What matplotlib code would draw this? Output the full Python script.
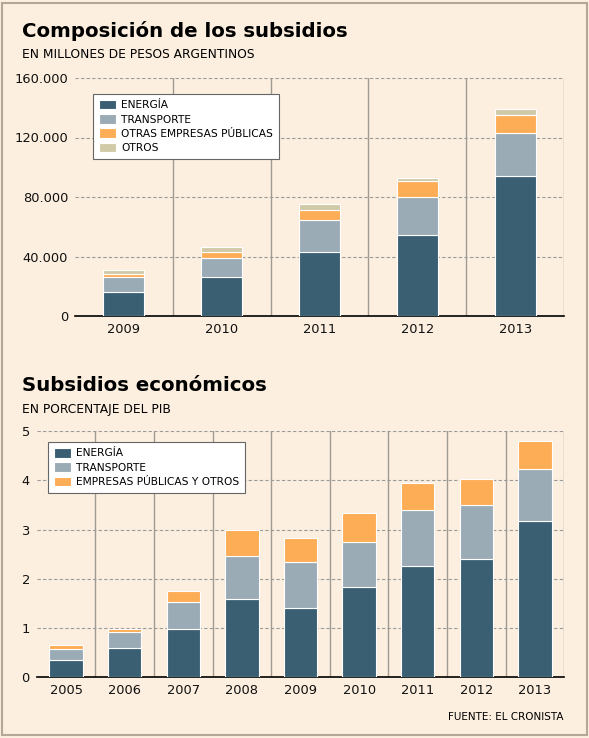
import numpy as np
import matplotlib.pyplot as plt
from matplotlib.patches import Rectangle
from matplotlib.ticker import FuncFormatter

## data: composicion (millones de pesos)
years_top = ["2009", "2010", "2011", "2012", "2013"]
energia_top = [15900, 26000, 43300, 54500, 93800]
transporte_top = [10100, 12800, 21300, 25800, 29200]
otras_emp_top = [2100, 4500, 6800, 10600, 12300]
otros_top = [2600, 3400, 3600, 1800, 4100]

## data: subsidios economicos (% PIB)
years_bot = ["2005", "2006", "2007", "2008", "2009", "2010", "2011", "2012", "2013"]
energia_bot = [0.35, 0.59, 0.99, 1.58, 1.40, 1.83, 2.26, 2.40, 3.18]
transporte_bot = [0.22, 0.32, 0.53, 0.88, 0.95, 0.91, 1.13, 1.09, 1.04]
otros_bot = [0.09, 0.08, 0.24, 0.53, 0.48, 0.60, 0.56, 0.54, 0.58]

bg = "#fcefdf"
c_en, c_tr, c_emp, c_ot = "#3a5f72", "#9babb5", "#fdad55", "#d1caa9"
grid_c = "#9a9a9a"

plt.rcParams['font.family'] = ['DejaVu Sans']

fig = plt.figure(figsize=(5.89, 7.38), dpi=100, facecolor=bg)
fig.patches.append(Rectangle((0.004, 0.004), 0.992, 0.992, transform=fig.transFigure,
                             fill=False, edgecolor="#b5a697", linewidth=1.5))


def style_axes(ax, n, ymax):
    ax.set_facecolor(bg)
    ax.set_xlim(-0.5, n - 0.5)
    ax.set_ylim(0, ymax)
    for s in ["left", "right", "top"]:
        ax.spines[s].set_visible(False)
    ax.spines["bottom"].set_color("black")
    ax.spines["bottom"].set_linewidth(1.2)
    ax.yaxis.grid(True, linestyle=(0, (3, 2)), color=grid_c, linewidth=0.8)
    ax.set_axisbelow(True)
    for i in range(n):
        ax.axvline(i + 0.5, color="#a09a92", linewidth=1.0, zorder=0.5)
    ax.tick_params(length=0, labelsize=9.4, colors="#111111", pad=5)


def make_legend(ax, x, y):
    leg = ax.legend(loc="upper left", bbox_to_anchor=(x, y), borderaxespad=0, fontsize=7.7,
                    frameon=True, fancybox=False, edgecolor="#666666", framealpha=1,
                    borderpad=0.55, handlelength=1.6, handleheight=1.0, labelspacing=0.36,
                    handletextpad=0.5)
    leg.get_frame().set_linewidth(0.8)
    return leg


## chart 1
ax1 = fig.add_axes([75 / 589, 1 - 316 / 738, 489 / 589, 238 / 738])
x1 = np.arange(len(years_top))
b = np.zeros(len(x1))
w1 = 0.42
for vals, col, lab in [(energia_top, c_en, "ENERGÍA"), (transporte_top, c_tr, "TRANSPORTE"),
                       (otras_emp_top, c_emp, "OTRAS EMPRESAS PÚBLICAS"), (otros_top, c_ot, "OTROS")]:
    ax1.bar(x1, vals, w1, bottom=b, color=col, edgecolor="white", linewidth=0.8, label=lab, zorder=3)
    b += np.array(vals)
style_axes(ax1, len(x1), 160000)
ax1.set_yticks([0, 40000, 80000, 120000, 160000])
ax1.yaxis.set_major_formatter(FuncFormatter(lambda v, p: f"{int(v):,}".replace(",", ".")))
ax1.set_xticks(x1)
ax1.set_xticklabels(years_top)
make_legend(ax1, 0.037, 0.933)

fig.text(22 / 589, 1 - 31 / 738, "Composición de los subsidios", fontsize=14.2, fontweight="bold",
         va="center", ha="left")
fig.text(22 / 589, 1 - 55 / 738, "EN MILLONES DE PESOS ARGENTINOS", fontsize=8.8, va="center", ha="left")

## chart 2
ax2 = fig.add_axes([36.7 / 589, 1 - 677.3 / 738, 527.6 / 589, 246.3 / 738])
x2 = np.arange(len(years_bot))
b = np.zeros(len(x2))
w2 = 0.57
for vals, col, lab in [(energia_bot, c_en, "ENERGÍA"), (transporte_bot, c_tr, "TRANSPORTE"),
                       (otros_bot, c_emp, "EMPRESAS PÚBLICAS Y OTROS")]:
    ax2.bar(x2, vals, w2, bottom=b, color=col, edgecolor="white", linewidth=0.8, label=lab, zorder=3)
    b += np.array(vals)
style_axes(ax2, len(x2), 5)
ax2.set_yticks([0, 1, 2, 3, 4, 5])
ax2.set_xticks(x2)
ax2.set_xticklabels(years_bot)
make_legend(ax2, 0.0214, 0.955)

fig.text(22 / 589, 1 - 386 / 738, "Subsidios económicos", fontsize=14.2, fontweight="bold",
         va="center", ha="left")
fig.text(22 / 589, 1 - 410 / 738, "EN PORCENTAJE DEL PIB", fontsize=8.8, va="center", ha="left")
fig.text(563 / 589, 1 - 717 / 738, "FUENTE: EL CRONISTA", fontsize=7.5, va="center", ha="right")

fig.savefig("out.png", dpi=100, facecolor=bg)
